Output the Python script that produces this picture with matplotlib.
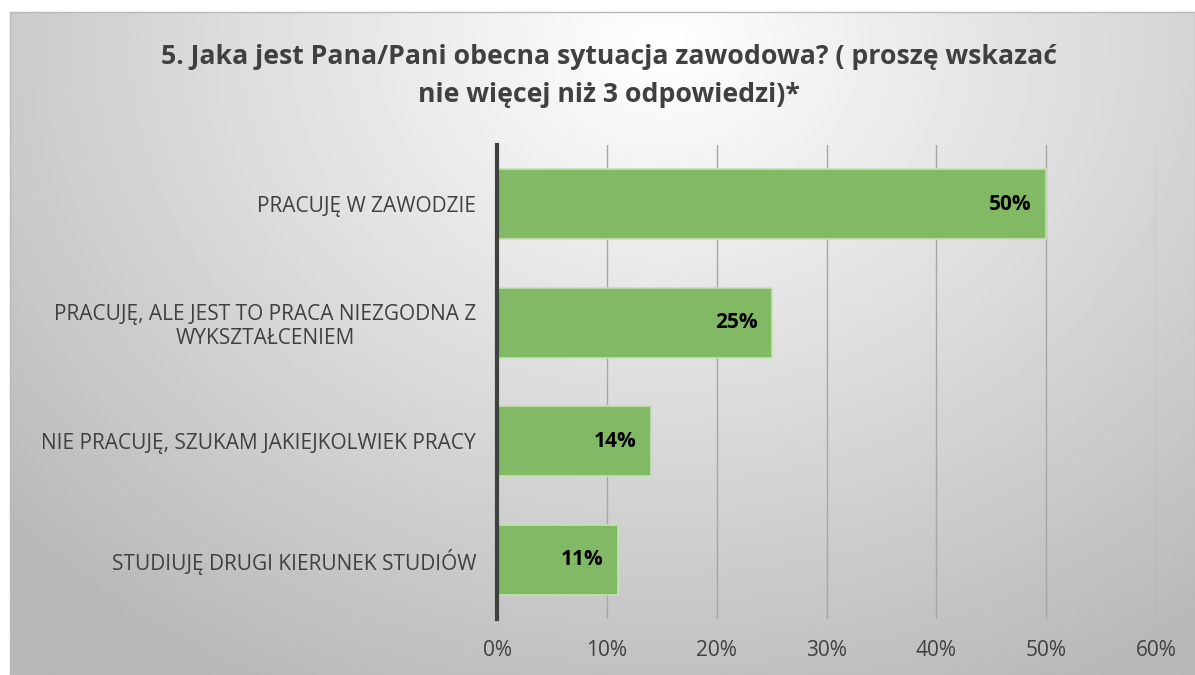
import matplotlib.pyplot as plt
import numpy as np

categories = [
    "PRACUJĘ W ZAWODZIE",
    "PRACUJĘ, ALE JEST TO PRACA NIEZGODNA Z\nWYKSZTAŁCENIEM",
    "NIE PRACUJĘ, SZUKAM JAKIEJKOLWIEK PRACY",
    "STUDIUJĘ DRUGI KIERUNEK STUDIÓW",
]
values = [50, 25, 14, 11]
labels = ["50%", "25%", "14%", "11%"]
ticks = [0, 10, 20, 30, 40, 50, 60]
title = "5. Jaka jest Pana/Pani obecna sytuacja zawodowa? ( proszę wskazać\nnie więcej niż 3 odpowiedzi)*"

plt.rcParams['font.family'] = ['Open Sans', 'DejaVu Sans']

W, H = 1195, 675
fig = plt.figure(figsize=(W / 100, H / 100), dpi=100)
fig.patch.set_facecolor('white')

# gradient background panel (radial-ish, light near top centre)
bg = fig.add_axes([10 / W, 0, 1 - 10 / W, 1 - 12 / H])
yy, xx = np.mgrid[0:1:300j, 0:1:600j]
d = np.sqrt(((xx - 0.55) / 0.75) ** 2 + ((yy - 0.05) / 1.1) ** 2)
shade = np.clip(1.0 - 0.28 * d, 0.72, 1.0)
bg.imshow(shade, cmap='gray', vmin=0, vmax=1, aspect='auto', extent=[0, 1, 1, 0])
bg.set_xticks([]); bg.set_yticks([])
for s in bg.spines.values():
    s.set_color('#b8b8b8')
    s.set_linewidth(1)

ax = fig.add_axes([497 / W, 1 - 619 / H, (1156 - 497) / W, (619 - 145) / H])
ax.set_facecolor('none')
y = np.arange(len(categories))
ax.barh(y, values, height=0.59, color='#82b964', edgecolor='#c6e0b4', linewidth=1.2, zorder=3)
for yi, v, lab in zip(y, values, labels):
    ax.text(v - 1.3, yi, lab, ha='right', va='center', fontsize=15, fontweight='bold', color='black', zorder=4)

ax.set_xlim(0, 60)
ax.set_ylim(len(categories) - 0.5, -0.5)
ax.set_xticks(ticks)
ax.set_xticklabels([f"{t}%" for t in ticks], fontsize=15, color='#404040')
ax.set_yticks(y)
ax.set_yticklabels(categories, fontsize=15, color='#404040', ha='right', multialignment='center')
ax.tick_params(axis='both', length=0)
ax.tick_params(axis='x', pad=15)
ax.tick_params(axis='y', pad=15)
ax.grid(axis='x', color='#a6a6a6', linewidth=1, zorder=0)
for k in ['top', 'right', 'bottom']:
    ax.spines[k].set_visible(False)
ax.spines['left'].set_color('#404040')
ax.spines['left'].set_linewidth(3)
ax.spines['left'].set_zorder(5)

fig.text(609 / W, 1 - 76 / H, title, ha='center', va='center', fontsize=19.2,
         fontweight='bold', color='#404040', linespacing=1.55)

fig.savefig('out.png', dpi=100)
